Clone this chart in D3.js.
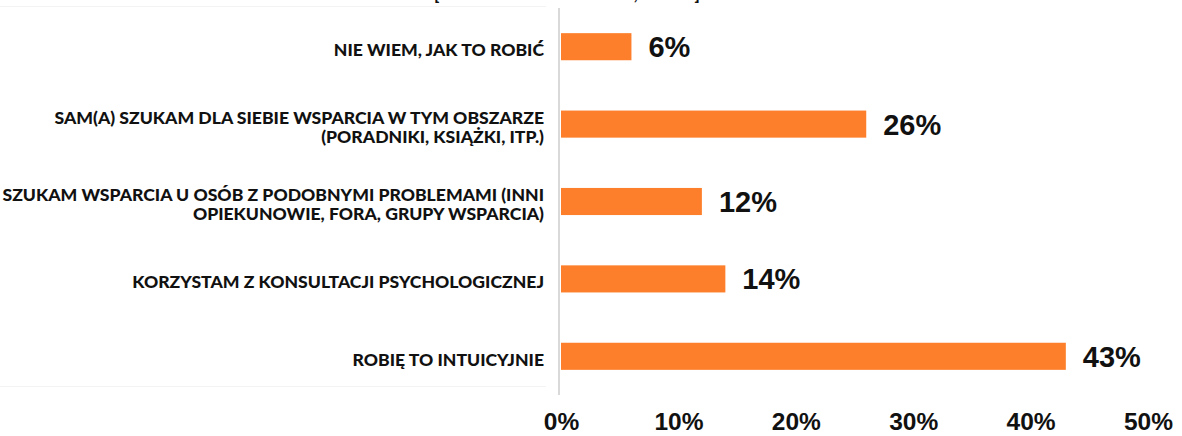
<!DOCTYPE html>
<html>
<head>
<meta charset="utf-8">
<script src="https://cdn.jsdelivr.net/npm/d3@7"></script>
<style>
  html, body { margin: 0; padding: 0; background: #ffffff; overflow: hidden; }
  svg { display: block; }
</style>
</head>
<body>
<svg id="chart" width="1182" height="436"></svg>
<script>
// ---- data ----
const categories = [
  ["NIE WIEM, JAK TO ROBIĆ"],
  ["SAM(A) SZUKAM DLA SIEBIE WSPARCIA W TYM OBSZARZE", "(PORADNIKI, KSIĄŻKI, ITP.)"],
  ["SZUKAM WSPARCIA U OSÓB Z PODOBNYMI PROBLEMAMI (INNI", "OPIEKUNOWIE, FORA, GRUPY WSPARCIA)"],
  ["KORZYSTAM Z KONSULTACJI PSYCHOLOGICZNEJ"],
  ["ROBIĘ TO INTUICYJNIE"]
];
const values = [6, 26, 12, 14, 43];
const tickValues = [0, 10, 20, 30, 40, 50];
const titleText = "[WIELOKROTNY WYBÓR, N=100]";

// ---- layout ----
const svg = d3.select("#chart");
const keys = categories.map((c, i) => i);

const x = d3.scaleLinear().domain([0, 50]).range([561, 1148]);
const y = d3.scaleBand().domain(keys).range([8, 395]).paddingInner(0.65).paddingOuter(0.325);

// faint cell borders
svg.append("line").attr("x1", 0).attr("x2", 546).attr("y1", 6.5).attr("y2", 6.5)
  .attr("stroke", "#f3f3f3").attr("stroke-width", 1);
svg.append("line").attr("x1", 0).attr("x2", 546).attr("y1", 386.5).attr("y2", 386.5)
  .attr("stroke", "#f3f3f3").attr("stroke-width", 1);

// title (cut off at top, as in the reference)
svg.append("text")
  .attr("x", 434).attr("y", 0)
  .attr("font-family", "Lato").attr("font-weight", 900).attr("font-size", 17)
  .attr("fill", "#111")
  .text(titleText);

// axis line
svg.append("line")
  .attr("x1", x(0) - 2).attr("x2", x(0) - 2)
  .attr("y1", 8).attr("y2", 395)
  .attr("stroke", "#d9d9d9").attr("stroke-width", 2);

// bars
svg.selectAll("rect.bar").data(values).join("rect")
  .attr("class", "bar")
  .attr("x", x(0))
  .attr("y", (d, i) => y(i))
  .attr("width", d => x(d) - x(0))
  .attr("height", y.bandwidth())
  .attr("fill", "#fd7f2b");

// value labels
svg.selectAll("text.val").data(values).join("text")
  .attr("class", "val")
  .attr("x", d => x(d) + 17)
  .attr("y", (d, i) => y(i) + y.bandwidth() / 2)
  .attr("dy", "0.36em")
  .attr("font-family", "Liberation Sans, Arial, sans-serif")
  .attr("font-weight", "bold")
  .attr("font-size", 29)
  .attr("fill", "#111")
  .text(d => d + "%");

// category labels
const cat = svg.selectAll("text.cat").data(categories).join("text")
  .attr("class", "cat")
  .attr("text-anchor", "end")
  .attr("font-family", "Lato")
  .attr("font-weight", 900)
  .attr("font-size", 17.6)
  .attr("fill", "#111")
  .attr("transform", (d, i) => `translate(544,${y(i) + y.bandwidth() / 2 + 3})`);
cat.each(function(lines) {
  const t = d3.select(this);
  const lh = 19;
  const offset = -(lines.length - 1) * lh / 2;
  lines.forEach((ln, j) => {
    t.append("tspan").attr("x", 0).attr("y", offset + j * lh).attr("dy", "0.36em").text(ln);
  });
});

// x axis tick labels
const axis = d3.axisBottom(x).tickValues(tickValues).tickFormat(d => d + "%").tickSize(0).tickPadding(0);
const gx = svg.append("g").attr("transform", "translate(0,430)").call(axis);
gx.select(".domain").remove();
gx.selectAll("text")
  .attr("dy", "0")
  .attr("font-family", "Liberation Sans, Arial, sans-serif")
  .attr("font-weight", "bold")
  .attr("font-size", 24.5)
  .attr("fill", "#111");
</script>
</body>
</html>
